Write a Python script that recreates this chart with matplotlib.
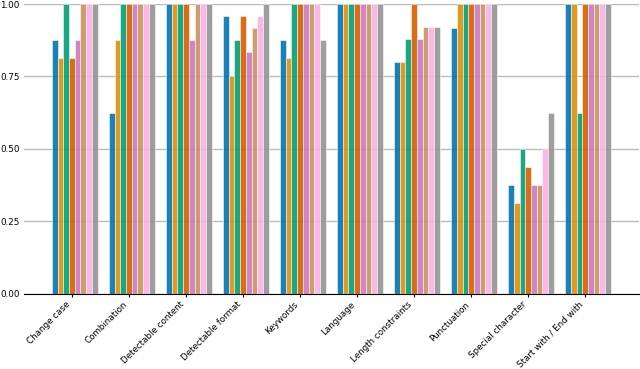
import matplotlib
matplotlib.use("Agg")
import matplotlib.pyplot as plt
import numpy as np

categories = ["Change case", "Combination", "Detectable content", "Detectable format",
              "Keywords", "Language", "Length constraints", "Punctuation",
              "Special character", "Start with / End with"]

series_1 = [0.875, 0.625, 1.0, 0.958, 0.875, 1.0, 0.80, 0.917, 0.375, 1.0]
series_2 = [0.8125, 0.875, 1.0, 0.75, 0.8125, 1.0, 0.80, 1.0, 0.3125, 1.0]
series_3 = [1.0, 1.0, 1.0, 0.875, 1.0, 1.0, 0.88, 1.0, 0.5, 0.625]
series_4 = [0.8125, 1.0, 1.0, 0.958, 1.0, 1.0, 1.0, 1.0, 0.4375, 1.0]
series_5 = [0.875, 1.0, 0.875, 0.833, 1.0, 1.0, 0.88, 1.0, 0.375, 1.0]
series_6 = [1.0, 1.0, 1.0, 0.917, 1.0, 1.0, 0.92, 1.0, 0.375, 1.0]
series_7 = [1.0, 1.0, 1.0, 0.958, 1.0, 1.0, 0.92, 1.0, 0.5, 1.0]
series_8 = [1.0, 1.0, 1.0, 1.0, 0.875, 1.0, 0.92, 1.0, 0.625, 1.0]

series = [series_1, series_2, series_3, series_4, series_5, series_6, series_7, series_8]
colors = ['#0173b2', '#de8f05', '#029e73', '#d55e00', '#cc78bc', '#ca9161', '#fbafe4', '#949494']
yticks = [0.0, 0.25, 0.5, 0.75, 1.0]

fig = plt.figure(figsize=(6.4, 3.69), dpi=100)
ax = fig.add_axes([0.0375, 0.204, 0.9605, 0.785])

x = np.arange(len(categories))
w = 0.1
for i, (vals, c) in enumerate(zip(series, colors)):
    ax.bar(x + (i - 3) * w, vals, width=w, color=c, alpha=0.9,
           edgecolor='white', linewidth=0.4, zorder=3)

ax.set_ylim(0, 1.0)
ax.set_yticks(yticks)
ax.set_yticklabels([f"{v:.2f}" for v in yticks], fontsize=6.3)
ax.set_xticks(x)
ax.set_xticklabels(categories, rotation=45, ha='right', fontsize=6.3)
ax.grid(axis='y', color='#bbbbbb', linewidth=1.0, zorder=0)
ax.set_axisbelow(True)
for s in ['top', 'right', 'left']:
    ax.spines[s].set_visible(False)
ax.spines['bottom'].set_color('black')
ax.tick_params(axis='y', length=0, pad=3)
ax.tick_params(axis='x', length=2.5, width=0.8, pad=2)

fig.savefig("out.png", dpi=100)
